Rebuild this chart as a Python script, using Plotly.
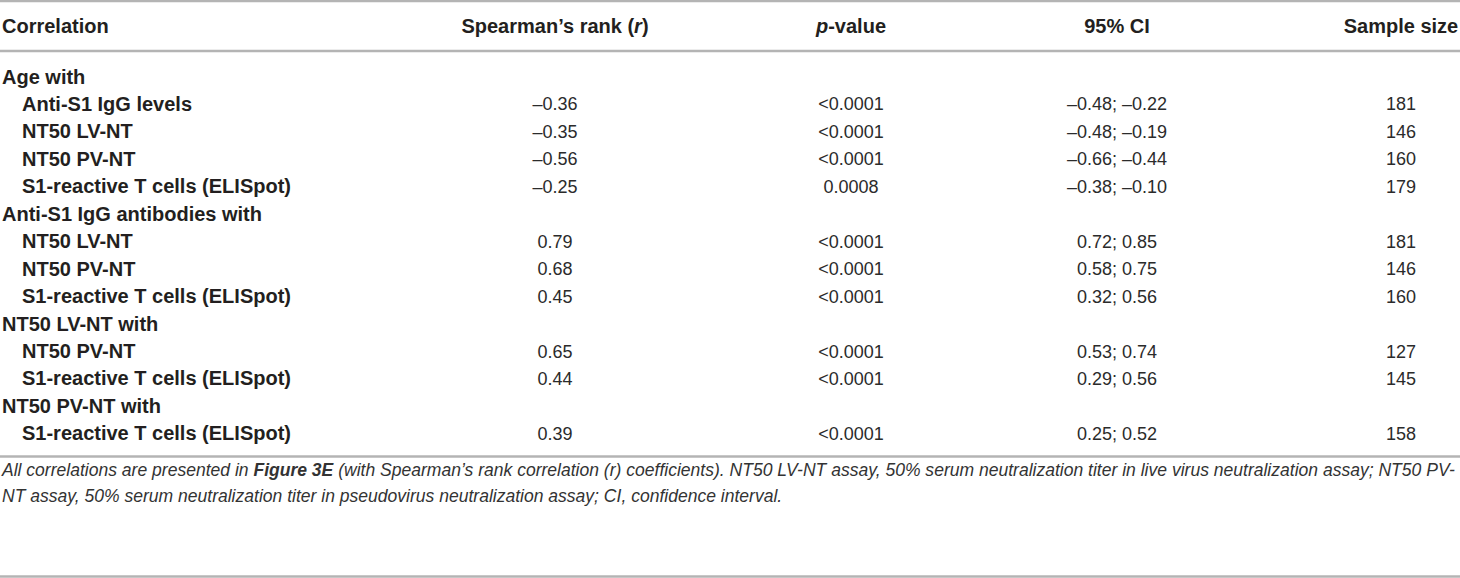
import plotly.graph_objects as go

# ---------------- data ----------------
headers = ["Correlation", "Spearman’s rank (<i>r</i>)", "<i>p</i>-value", "95% CI", "Sample size"]

row_labels = [
    "Age with",
    "Anti-S1 IgG levels",
    "NT50 LV-NT",
    "NT50 PV-NT",
    "S1-reactive T cells (ELISpot)",
    "Anti-S1 IgG antibodies with",
    "NT50 LV-NT",
    "NT50 PV-NT",
    "S1-reactive T cells (ELISpot)",
    "NT50 LV-NT with",
    "NT50 PV-NT",
    "S1-reactive T cells (ELISpot)",
    "NT50 PV-NT with",
    "S1-reactive T cells (ELISpot)",
]
is_group = [1, 0, 0, 0, 0, 1, 0, 0, 0, 1, 0, 0, 1, 0]

spearman_r = ["–0.36", "–0.35", "–0.56", "–0.25", "0.79", "0.68", "0.45", "0.65", "0.44", "0.39"]
p_values = ["&lt;0.0001", "&lt;0.0001", "&lt;0.0001", "0.0008", "&lt;0.0001", "&lt;0.0001",
            "&lt;0.0001", "&lt;0.0001", "&lt;0.0001", "&lt;0.0001"]
ci95 = ["–0.48; –0.22", "–0.48; –0.19", "–0.66; –0.44", "–0.38; –0.10", "0.72; 0.85",
        "0.58; 0.75", "0.32; 0.56", "0.53; 0.74", "0.29; 0.56", "0.25; 0.52"]
sample_size = [181, 146, 160, 179, 181, 146, 160, 127, 145, 158]

footnote_lines = [
    "All correlations are presented in <b>Figure 3E</b> (with Spearman’s rank correlation (r) coefficients). "
    "NT50 LV-NT assay, 50% serum neutralization titer in live virus neutralization assay; NT50 PV-",
    "NT assay, 50% serum neutralization titer in pseudovirus neutralization assay; CI, confidence interval.",
]

# ---------------- layout constants ----------------
W, H = 1460, 578
FONT = "Liberation Sans, Arial, sans-serif"
TXT = "#231f20"
NUM = "#2b2b2b"
LINE = "#b4b4b4"
col_x = [2, 555, 851, 1117, 1401]
header_y = 28
row_y0, row_dy = 78.5, 27.45
indent_x = 22
foot_y = [471.5, 497.5]

row_y = [row_y0 + i * row_dy for i in range(len(row_labels))]
data_y = [y for y, g in zip(row_y, is_group) if not g]

fig = go.Figure()

# header
fig.add_trace(go.Scatter(
    x=[col_x[0]], y=[header_y], text=[headers[0]], mode="text", textposition="middle right",
    textfont=dict(family=FONT, size=20, color=TXT, weight="bold"), hoverinfo="skip"))
fig.add_trace(go.Scatter(
    x=col_x[1:], y=[header_y] * 4, text=headers[1:], mode="text", textposition="middle center",
    textfont=dict(family=FONT, size=20, color=TXT, weight="bold"), hoverinfo="skip"))

# row labels
fig.add_trace(go.Scatter(
    x=[col_x[0] if g else indent_x for g in is_group], y=row_y, text=row_labels,
    mode="text", textposition="middle right",
    textfont=dict(family=FONT, size=20, color=TXT, weight="bold"), hoverinfo="skip"))

# value columns
for cx, vals in zip(col_x[1:], [spearman_r, p_values, ci95, [str(v) for v in sample_size]]):
    fig.add_trace(go.Scatter(
        x=[cx] * len(vals), y=data_y, text=vals, mode="text", textposition="middle center",
        textfont=dict(family=FONT, size=18, color=NUM), hoverinfo="skip"))

# footnote
fig.add_trace(go.Scatter(
    x=[2, 2], y=foot_y, text=[f"<i>{t}</i>" for t in footnote_lines], mode="text",
    textposition="middle right",
    textfont=dict(family=FONT, size=17.55, color="#333333"), hoverinfo="skip"))

# rules
for yy in [1, 51, 456.5, 576.5]:
    fig.add_shape(type="line", x0=0, x1=W, y0=yy, y1=yy, xref="x", yref="y",
                  line=dict(color=LINE, width=2.5))

fig.update_layout(
    width=W, height=H, margin=dict(l=0, r=0, t=0, b=0),
    paper_bgcolor="white", plot_bgcolor="white", showlegend=False,
    xaxis=dict(range=[0, W], visible=False, fixedrange=True),
    yaxis=dict(range=[H, 0], visible=False, fixedrange=True),
)

fig.write_html("out.html", config={"displayModeBar": False},
               post_script="document.body.style.margin='0';document.body.style.overflow='hidden';")
